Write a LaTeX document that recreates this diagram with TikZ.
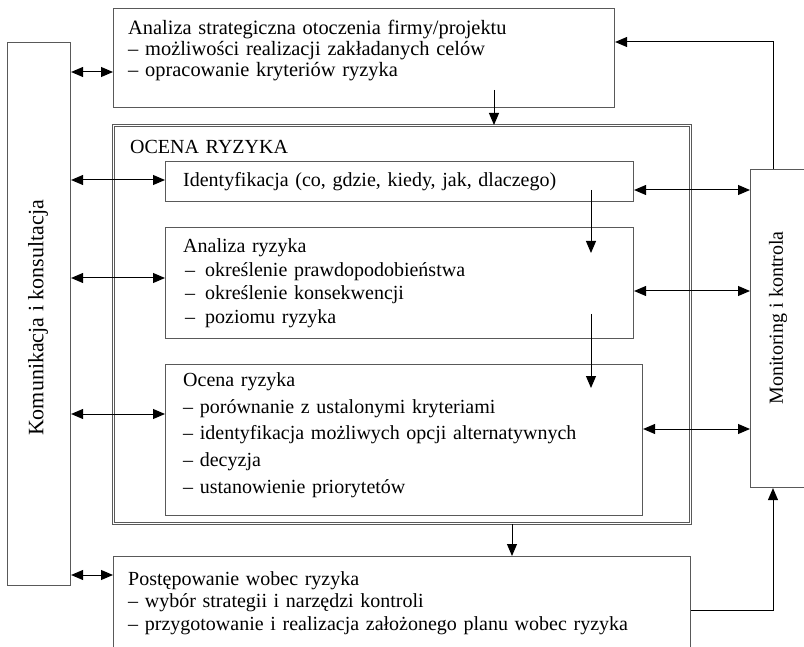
\documentclass[tikz,border=0pt]{standalone}
\usepackage{fontspec}
\setmainfont{Liberation Serif}
\usetikzlibrary{arrows.meta}
\tikzset{>={Triangle[length=12pt,width=10pt]}}

\begin{document}
\begin{tikzpicture}[x=1pt, y=-1pt,
    box/.style={draw=black!65, line width=1.1pt, rectangle, inner sep=0pt, anchor=north west},
    txt/.style={anchor=base west, inner sep=0pt, align=left, text width=600pt},
    link/.style={<->, line width=1pt},
    flow/.style={->, line width=1pt}]
    \useasboundingbox (0,0) rectangle (804,647);
    \clip (0,0) rectangle (804,647);

    % Boxes
    \node[box, minimum width=501pt, minimum height=99pt] (strat) at (113,8) {};
    \node[box, minimum width=63pt, minimum height=543pt] (komun) at (7,42) {};
    \node[box, double, double distance=1.6pt, minimum width=577pt, minimum height=398pt] (ocena) at (113,125) {};
    \node[box, minimum width=468pt, minimum height=40pt] (ident) at (165,161) {};
    \node[box, minimum width=468pt, minimum height=111pt] (anal) at (165,227) {};
    \node[box, minimum width=477pt, minimum height=151pt] (ocen) at (165,364) {};
    \node[box, minimum width=70pt, minimum height=318pt] (monit) at (750,169) {};
    \node[box, minimum width=577pt, minimum height=120pt] (post) at (113,556) {};

    % Text
    \node[txt, font=\fontsize{20.4}{21}\selectfont] (stratT) at (128,35)
        {Analiza strategiczna otoczenia firmy/projektu\\
         -- możliwości realizacji zakładanych celów\\
         -- opracowanie kryteriów ryzyka};
    \node[txt, font=\fontsize{20}{21.5}\selectfont] (ocenaT) at (130,154) {OCENA RYZYKA};
    \node[txt, font=\fontsize{20}{21.5}\selectfont] (identT) at (183,187)
        {Identyfikacja (co, gdzie, kiedy, jak, dlaczego)};
    \node[txt, font=\fontsize{20}{23.5}\selectfont] (analT) at (183,253)
        {Analiza ryzyka\\
         \hspace*{2pt}--\enspace określenie prawdopodobieństwa\\
         \hspace*{2pt}--\enspace określenie konsekwencji\\
         \hspace*{2pt}--\enspace poziomu ryzyka};
    \node[txt, font=\fontsize{20}{27}\selectfont] (ocenT) at (183,386)
        {Ocena ryzyka\\
         -- porównanie z ustalonymi kryteriami\\
         -- identyfikacja możliwych opcji alternatywnych\\
         -- decyzja\\
         -- ustanowienie priorytetów};
    \node[txt, font=\fontsize{20}{22.5}\selectfont] (postT) at (128,585)
        {Postępowanie wobec ryzyka\\
         -- wybór strategii i narzędzi kontroli\\
         -- przygotowanie i realizacja założonego planu wobec ryzyka};
    \node[rotate=90, font=\fontsize{22}{24}\selectfont] (komunT) at (38,318) {Komunikacja i konsultacja};
    \node[rotate=90, font=\fontsize{20}{22}\selectfont] (monitT) at (778,318) {Monitoring i kontrola};

    % Left links
    \draw[link] (komun.east |- 0,72) -- (strat.west |- 0,72);
    \draw[link] (komun.east |- 0,180) -- (ident.west |- 0,180);
    \draw[link] (komun.east |- 0,278) -- (anal.west |- 0,278);
    \draw[link] (komun.east |- 0,414) -- (ocen.west |- 0,414);
    \draw[link] (komun.east |- 0,575) -- (post.west |- 0,575);

    % Right links
    \draw[link] (ident.east |- 0,190) -- (monit.west |- 0,190);
    \draw[link] (anal.east |- 0,291) -- (monit.west |- 0,291);
    \draw[link] (ocen.east |- 0,429) -- (monit.west |- 0,429);

    % Flow
    \coordinate (s1) at (494,90);
    \coordinate (s2) at (591,190);
    \coordinate (e2) at (591,253);
    \coordinate (s3) at (591,314);
    \coordinate (e3) at (591,388);
    \draw[flow] (s1) -- (s1 |- ocena.north);
    \draw[flow] (s2) -- (e2);
    \draw[flow] (s3) -- (e3);
    \draw[flow] (ocena.south -| 512,0) -- (post.north -| 512,0);

    % Feedback
    \draw[flow] (monit.north -| 773,0) -- (773,42) -- (strat.east |- 0,42);
    \draw[flow] (post.east |- 0,610) -- (773,610) -- (monit.south -| 773,0);
\end{tikzpicture}
\end{document}
